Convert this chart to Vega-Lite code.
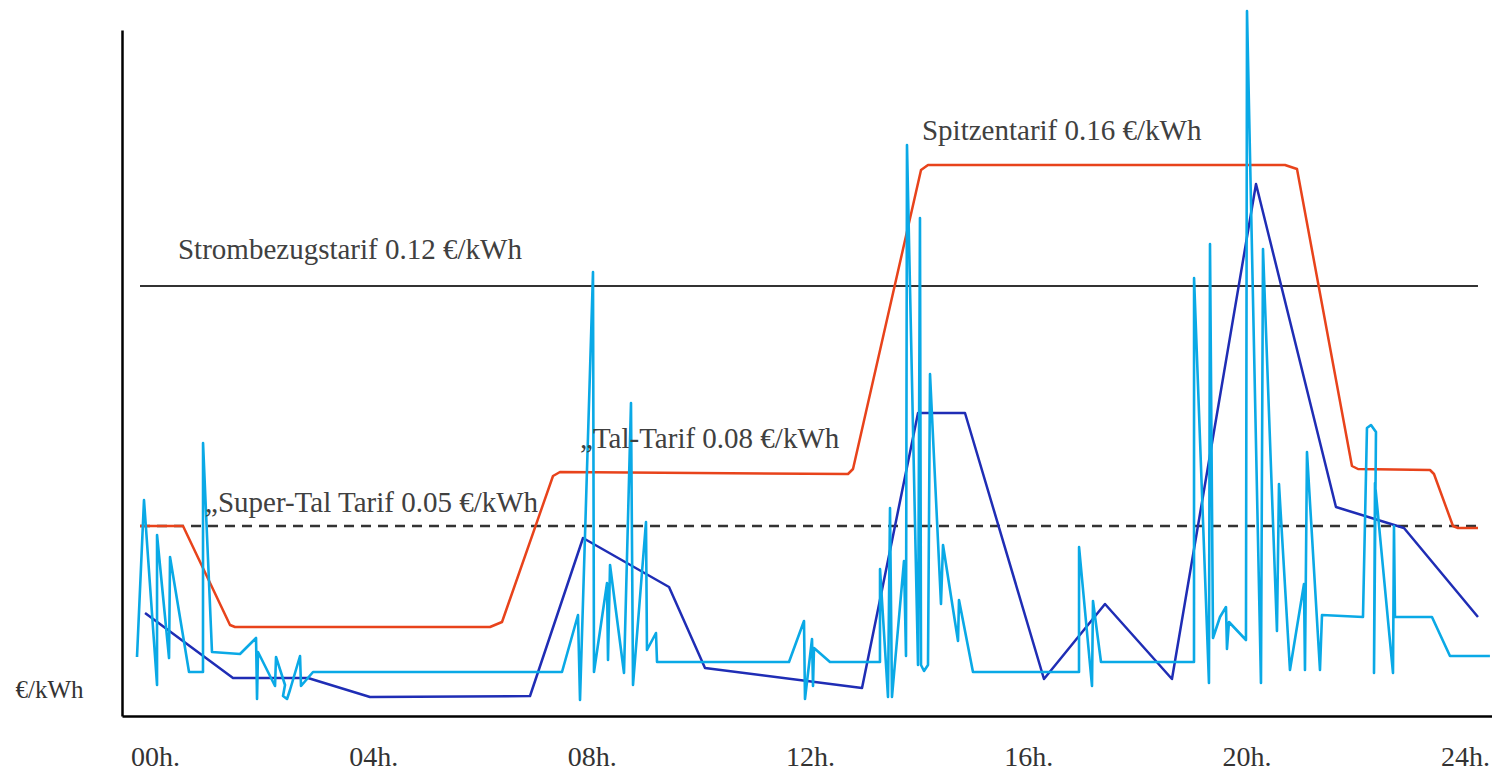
{
  "$schema": "https://vega.github.io/schema/vega-lite/v6.json",
  "width": 1370,
  "height": 686,
  "autosize": {"type": "none"},
  "padding": {"left": 122, "top": 30, "right": 0, "bottom": 63},
  "background": "white",
  "config": {"view": {"stroke": null}, "font": "Liberation Serif"},
  "encoding": {
    "x": {
      "field": "h", "type": "quantitative",
      "scale": {"domain": [-0.605, 24.497], "nice": false, "zero": false},
      "axis": {
        "title": null, "values": [0, 4, 8, 12, 16, 20, 24],
        "labelExpr": "(datum.value < 10 ? '0' : '') + datum.value + 'h.'",
        "ticks": false, "grid": false, "domainColor": "#000000", "domainWidth": 2.5,
        "labelFont": "Liberation Serif", "labelFontSize": 28, "labelColor": "#333333",
        "labelPadding": 27, "labelFlush": false, "labelOverlap": false
      }
    },
    "y": {
      "field": "v", "type": "quantitative",
      "scale": {"domain": [0, 686], "nice": false, "zero": false},
      "axis": {
        "title": "€/kWh", "labels": false, "ticks": false, "grid": false,
        "domainColor": "#000000", "domainWidth": 2.5,
        "titleAngle": 0, "titleX": -107, "titleY": 667, "titleAlign": "left",
        "titleBaseline": "alphabetic", "titleFont": "Liberation Serif",
        "titleFontSize": 25, "titleFontWeight": "normal", "titleColor": "#333333"
      }
    }
  },
  "layer": [
    {
      "data": {"values": [{"h": -0.275, "v": 430}, {"h": 24.24, "v": 430}]},
      "mark": {"type": "line", "color": "#333333", "strokeWidth": 2.2}
    },
    {
      "data": {"values": [{"h": -0.275, "v": 190}, {"h": 24.24, "v": 190}]},
      "mark": {"type": "line", "color": "#333333", "strokeWidth": 2.5, "strokeDash": [10, 7]}
    },
    {
      "data": {"values": [
        {"h": -0.275, "v": 190}, {"h": 0.513, "v": 190}, {"h": 1.374, "v": 91}, {"h": 1.466, "v": 89},
        {"h": 6.138, "v": 89}, {"h": 6.358, "v": 94}, {"h": 7.292, "v": 240}, {"h": 7.420, "v": 244},
        {"h": 12.697, "v": 242}, {"h": 12.789, "v": 247}, {"h": 14.035, "v": 546}, {"h": 14.163, "v": 551},
        {"h": 20.704, "v": 551}, {"h": 20.924, "v": 547}, {"h": 21.931, "v": 250}, {"h": 22.041, "v": 247},
        {"h": 23.361, "v": 246}, {"h": 23.434, "v": 242}, {"h": 23.782, "v": 190}, {"h": 23.874, "v": 188},
        {"h": 24.240, "v": 188}
      ]},
      "mark": {"type": "line", "color": "#E8431B", "strokeWidth": 2.5, "strokeJoin": "round"}
    },
    {
      "data": {"values": [
        {"h": -0.183, "v": 103}, {"h": 1.429, "v": 38}, {"h": 2.803, "v": 38}, {"h": 3.939, "v": 19},
        {"h": 6.871, "v": 20}, {"h": 7.842, "v": 178}, {"h": 9.418, "v": 129}, {"h": 10.077, "v": 48},
        {"h": 12.954, "v": 28}, {"h": 13.980, "v": 303}, {"h": 14.841, "v": 303}, {"h": 16.288, "v": 37},
        {"h": 17.406, "v": 112}, {"h": 18.633, "v": 37}, {"h": 20.173, "v": 532}, {"h": 21.638, "v": 209},
        {"h": 22.884, "v": 188}, {"h": 24.240, "v": 99}
      ]},
      "mark": {"type": "line", "color": "#1F2DB5", "strokeWidth": 2.5, "strokeJoin": "round"}
    },
    {
      "data": {"values": [
        {"i": 1, "h": -0.330, "v": 59}, {"i": 2, "h": -0.202, "v": 216}, {"i": 3, "h": 0.037, "v": 31},
        {"i": 4, "h": 0.037, "v": 181}, {"i": 5, "h": 0.257, "v": 58}, {"i": 6, "h": 0.275, "v": 159},
        {"i": 7, "h": 0.623, "v": 44}, {"i": 8, "h": 0.879, "v": 44}, {"i": 9, "h": 0.880, "v": 273},
        {"i": 10, "h": 1.044, "v": 64}, {"i": 11, "h": 1.557, "v": 62}, {"i": 12, "h": 1.851, "v": 78},
        {"i": 13, "h": 1.869, "v": 17}, {"i": 14, "h": 1.887, "v": 64}, {"i": 15, "h": 2.199, "v": 30},
        {"i": 16, "h": 2.217, "v": 59}, {"i": 17, "h": 2.382, "v": 31}, {"i": 18, "h": 2.345, "v": 20},
        {"i": 19, "h": 2.419, "v": 17}, {"i": 20, "h": 2.473, "v": 26}, {"i": 21, "h": 2.657, "v": 60},
        {"i": 22, "h": 2.675, "v": 30}, {"i": 23, "h": 2.895, "v": 44}, {"i": 24, "h": 7.457, "v": 44},
        {"i": 25, "h": 7.750, "v": 101}, {"i": 26, "h": 7.787, "v": 16}, {"i": 27, "h": 8.025, "v": 444},
        {"i": 28, "h": 8.043, "v": 44}, {"i": 29, "h": 8.282, "v": 133}, {"i": 30, "h": 8.300, "v": 56},
        {"i": 31, "h": 8.337, "v": 151}, {"i": 32, "h": 8.593, "v": 43}, {"i": 33, "h": 8.721, "v": 313},
        {"i": 34, "h": 8.758, "v": 31}, {"i": 35, "h": 8.996, "v": 194}, {"i": 36, "h": 9.014, "v": 66},
        {"i": 37, "h": 9.179, "v": 83}, {"i": 38, "h": 9.198, "v": 54}, {"i": 39, "h": 11.616, "v": 54},
        {"i": 40, "h": 11.891, "v": 95}, {"i": 41, "h": 11.909, "v": 17}, {"i": 42, "h": 12.038, "v": 77},
        {"i": 43, "h": 12.056, "v": 30}, {"i": 44, "h": 12.074, "v": 68}, {"i": 45, "h": 12.367, "v": 54},
        {"i": 46, "h": 13.283, "v": 54}, {"i": 47, "h": 13.284, "v": 147}, {"i": 48, "h": 13.430, "v": 19},
        {"i": 49, "h": 13.467, "v": 208}, {"i": 50, "h": 13.503, "v": 19}, {"i": 51, "h": 13.723, "v": 155},
        {"i": 52, "h": 13.760, "v": 60}, {"i": 53, "h": 13.778, "v": 571}, {"i": 54, "h": 13.980, "v": 51},
        {"i": 55, "h": 14.016, "v": 498}, {"i": 56, "h": 14.035, "v": 51}, {"i": 57, "h": 14.090, "v": 45},
        {"i": 58, "h": 14.163, "v": 51}, {"i": 59, "h": 14.200, "v": 342}, {"i": 60, "h": 14.401, "v": 112},
        {"i": 61, "h": 14.438, "v": 171}, {"i": 62, "h": 14.713, "v": 75}, {"i": 63, "h": 14.731, "v": 116},
        {"i": 64, "h": 14.987, "v": 44}, {"i": 65, "h": 16.930, "v": 44}, {"i": 66, "h": 16.931, "v": 169},
        {"i": 67, "h": 17.168, "v": 30}, {"i": 68, "h": 17.186, "v": 115}, {"i": 69, "h": 17.333, "v": 54},
        {"i": 70, "h": 19.037, "v": 54}, {"i": 71, "h": 19.038, "v": 438}, {"i": 72, "h": 19.311, "v": 33},
        {"i": 73, "h": 19.330, "v": 472}, {"i": 74, "h": 19.385, "v": 78}, {"i": 75, "h": 19.513, "v": 99},
        {"i": 76, "h": 19.623, "v": 109}, {"i": 77, "h": 19.641, "v": 67}, {"i": 78, "h": 19.678, "v": 94},
        {"i": 79, "h": 19.989, "v": 76}, {"i": 80, "h": 20.008, "v": 705}, {"i": 81, "h": 20.264, "v": 33},
        {"i": 82, "h": 20.301, "v": 467}, {"i": 83, "h": 20.557, "v": 85}, {"i": 84, "h": 20.594, "v": 232},
        {"i": 85, "h": 20.795, "v": 46}, {"i": 86, "h": 21.052, "v": 132}, {"i": 87, "h": 21.070, "v": 46},
        {"i": 88, "h": 21.107, "v": 264}, {"i": 89, "h": 21.345, "v": 46}, {"i": 90, "h": 21.382, "v": 101},
        {"i": 91, "h": 22.133, "v": 99}, {"i": 92, "h": 22.206, "v": 288}, {"i": 93, "h": 22.280, "v": 291},
        {"i": 94, "h": 22.371, "v": 284}, {"i": 95, "h": 22.335, "v": 43}, {"i": 96, "h": 22.353, "v": 233},
        {"i": 97, "h": 22.683, "v": 43}, {"i": 98, "h": 22.701, "v": 190}, {"i": 99, "h": 22.719, "v": 99},
        {"i": 100, "h": 23.397, "v": 99}, {"i": 101, "h": 23.727, "v": 60}, {"i": 102, "h": 24.459, "v": 60}
      ]},
      "mark": {"type": "line", "color": "#0AA9E6", "strokeWidth": 2.6, "strokeJoin": "round"},
      "encoding": {"order": {"field": "i", "type": "quantitative"}}
    },
    {
      "data": {"values": [
        {"h": 0.421, "v": 457, "label": "Strombezugstarif 0.12 €/kWh"},
        {"h": 14.053, "v": 576, "label": "Spitzentarif 0.16 €/kWh"},
        {"h": 7.787, "v": 268, "label": "„Tal-Tarif 0.08 €/kWh"},
        {"h": 0.916, "v": 204, "label": "„Super-Tal Tarif 0.05 €/kWh"}
      ]},
      "mark": {"type": "text", "align": "left", "baseline": "alphabetic", "font": "Liberation Serif", "fontSize": 29, "color": "#404040"},
      "encoding": {"text": {"field": "label", "type": "nominal"}}
    }
  ]
}
